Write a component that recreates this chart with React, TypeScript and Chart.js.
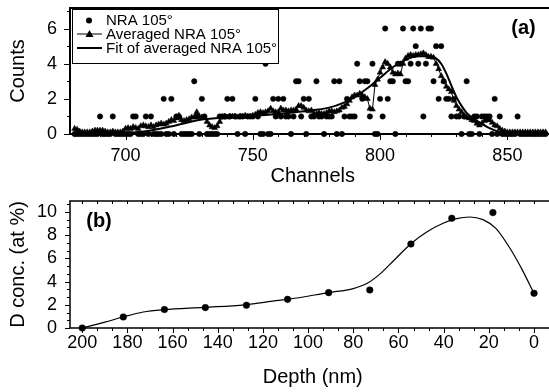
import React, { useEffect, useRef } from 'react';
import { Chart, registerables } from 'chart.js';

Chart.register(...registerables);

const FONT = '"Liberation Sans", Arial, Helvetica, sans-serif';

// ---------- Panel (a): NRA spectrum ----------
const CHANNEL_START = 680;
const rawCounts = [
  0, 0, 0, 0, 0, 0, 0, 0, 0, 0,
  1, 0, 0, 0, 0, 1, 0, 0, 0, 0,
  0, 0, 0, 1, 1, 0, 0, 0, 1, 0,
  1, 0, 0, 0, 0, 2, 0, 0, 2, 0,
  1, 1, 0, 0, 0, 0, 0, 3, 1, 0,
  2, 1, 0, 0, 0, 0, 0, 1, 1, 1,
  2, 1, 2, 1, 0, 1, 1, 0, 1, 1,
  1, 2, 1, 0, 0, 4, 0, 0, 2, 1,
  2, 1, 2, 1, 1, 0, 1, 3, 3, 1,
  2, 0, 2, 1, 1, 3, 1, 1, 0, 1,
  1, 1, 3, 0, 3, 0, 1, 2, 1, 1,
  1, 4, 3, 2, 3, 3, 1, 4, 0, 0,
  2, 1, 6, 2, 3, 3, 0, 4, 4, 6,
  3, 3, 4, 6, 5, 4, 6, 1, 4, 6,
  6, 3, 5, 2, 5, 3, 2, 2, 1, 2,
  1, 1, 0, 1, 3, 0, 0, 1, 1, 0,
  1, 1, 1, 1, 0, 2, 0, 1, 0, 0,
  0, 0, 0, 0, 1, 0, 0, 0, 0, 0,
  0, 0, 0, 0, 0, 0,
];
const averagedCounts = [
  0.3, 0.25, 0.15, 0.1, 0.1, 0.1, 0.1, 0.15, 0.2, 0.2,
  0.2, 0.2, 0.15, 0.1, 0.1, 0.15, 0.1, 0.1, 0.1, 0.15,
  0.3, 0.35, 0.3, 0.4, 0.35, 0.3, 0.45, 0.5, 0.45, 0.4,
  0.5, 0.4, 0.5, 0.55, 0.6, 0.55, 0.6, 0.7, 0.8, 0.75,
  0.9, 1.05, 0.8, 0.75, 0.8, 0.85, 0.95, 0.95, 1.25, 1.0,
  0.95, 0.95, 0.7, 0.5, 0.4, 0.35, 0.45, 0.7, 0.95, 1.0,
  0.95, 1.0, 1.0, 1.0, 0.95, 1.0, 1.0, 1.05, 1.0, 1.0,
  1.05, 1.1, 1.2, 1.25, 1.2, 1.25, 1.3, 1.45, 1.3, 1.25,
  1.25, 1.45, 1.35, 1.35, 1.3, 1.35, 1.35, 1.4, 1.6, 1.6,
  1.5, 1.35, 1.3, 1.35, 1.15, 1.15, 1.2, 1.15, 1.15, 1.2,
  1.3, 1.3, 1.25, 1.3, 1.35, 1.5, 1.55, 1.7, 1.9, 2.1,
  2.2, 2.2, 2.3, 2.2, 2.1, 2.0, 1.45, 1.4, 2.8, 3.1,
  3.5, 3.8, 4.1, 4.0, 3.8, 3.5, 3.4, 3.45, 3.4, 4.0,
  4.3, 4.45, 4.5, 4.45, 4.5, 4.5, 4.55, 4.6, 4.5, 4.4,
  4.4, 4.35, 4.0, 3.7, 3.3, 3.0, 2.7, 2.55, 2.4, 1.9,
  1.6, 1.4, 1.25, 1.05, 0.95, 0.9, 0.8, 0.75, 0.6, 0.5,
  0.6, 0.75, 0.8, 0.8, 0.65, 0.5, 0.45, 0.3, 0.2, 0.15,
  0.1, 0.1, 0.1, 0.1, 0.1, 0.1, 0.1, 0.1, 0.1, 0.1,
  0.1, 0.1, 0.1, 0.1, 0.1, 0.1,
];
const fitChannels = [680, 690, 700, 710, 720, 730, 740, 755, 770, 780, 786, 790, 795, 800, 805, 809, 815, 819, 822, 824, 826, 828, 830, 832, 834, 837, 840, 843, 847, 850, 866];
const fitCounts = [0, 0, 0.05, 0.2, 0.5, 0.82, 0.95, 1.08, 1.3, 1.5, 1.8, 2.1, 2.6, 3.2, 3.8, 4.15, 4.42, 4.42, 4.3, 4.0, 3.45, 2.75, 2.1, 1.6, 1.2, 0.85, 0.58, 0.33, 0.1, 0.02, 0];
const channelTicks = [700, 750, 800, 850];
const countTicks = [0, 2, 4, 6];

// ---------- Panel (b): depth profile ----------
const depthValues = [200, 181.8, 163.6, 145.5, 127.3, 109.1, 90.9, 72.7, 54.5, 36.4, 18.2, 0];
const concValues = [0, 0.95, 1.59, 1.76, 1.96, 2.47, 3.05, 3.28, 7.24, 9.46, 9.95, 2.99];
const fitDepths = [200, 190, 182, 173, 164, 146, 128, 113, 109, 91, 80, 74, 68, 62, 54.5, 47.5, 40, 34.3, 28.5, 22.6, 16.8, 11, 5.1, 0];
const fitConc = [0, 0.5, 0.95, 1.38, 1.58, 1.78, 2.0, 2.39, 2.47, 3.05, 3.4, 3.83, 4.69, 5.84, 7.27, 8.28, 9.05, 9.43, 9.57, 9.34, 8.57, 6.98, 4.97, 2.97];
const depthTicks = [200, 180, 160, 140, 120, 100, 80, 60, 40, 20, 0];
const concTicks = [0, 2, 4, 6, 8, 10];

type FrameOpts = {
  id: string;
  lw: number;
  xMajor: number;
  xMinor: number;
  yMajor: number;
  yMinor: number;
  majorLen: number;
  minorLen: number;
  topTicks: boolean;
  label: string;
  labelX: number;
  labelY: number;
  legend: boolean;
};

function isMultiple(v: number, step: number) {
  const r = v / step;
  return Math.abs(r - Math.round(r)) < 1e-6;
}

function drawLegend(ctx: CanvasRenderingContext2D) {
  ctx.save();
  ctx.fillStyle = '#fff';
  ctx.fillRect(72, 9.5, 206, 54);
  ctx.strokeStyle = '#000';
  ctx.lineWidth = 1;
  ctx.strokeRect(72.5, 9.5, 206, 54);
  ctx.fillStyle = '#000';
  ctx.beginPath();
  ctx.arc(89, 20.5, 3, 0, Math.PI * 2);
  ctx.fill();
  ctx.beginPath();
  ctx.lineWidth = 1;
  ctx.moveTo(77, 34);
  ctx.lineTo(102, 34);
  ctx.stroke();
  ctx.beginPath();
  ctx.moveTo(89.5, 30);
  ctx.lineTo(93.5, 37);
  ctx.lineTo(85.5, 37);
  ctx.closePath();
  ctx.fill();
  ctx.beginPath();
  ctx.lineWidth = 2;
  ctx.moveTo(77, 48);
  ctx.lineTo(102, 48);
  ctx.stroke();
  ctx.font = `15px ${FONT}`;
  ctx.textBaseline = 'middle';
  ctx.textAlign = 'left';
  ctx.fillText('NRA 105°', 106, 21);
  ctx.fillText('Averaged NRA 105°', 106, 34.5);
  ctx.fillText('Fit of averaged NRA 105°', 106, 48.5);
  ctx.restore();
}

function framePlugin(o: FrameOpts) {
  return {
    id: o.id,
    afterDatasetsDraw(chart: any) {
      if (o.legend) drawLegend(chart.ctx);
    },
    afterDraw(chart: any) {
      const ctx: CanvasRenderingContext2D = chart.ctx;
      const { left, right, top, bottom } = chart.chartArea;
      const xs = chart.scales.x;
      const ys = chart.scales.y;
      ctx.save();
      ctx.strokeStyle = '#000';
      ctx.lineWidth = o.lw;
      ctx.beginPath();
      ctx.moveTo(left - o.lw / 2, top);
      ctx.lineTo(right, top);
      ctx.moveTo(left, top);
      ctx.lineTo(left, bottom + o.lw / 2);
      ctx.moveTo(left - o.lw / 2, bottom);
      ctx.lineTo(right, bottom);
      ctx.stroke();

      ctx.lineWidth = 1;
      ctx.beginPath();
      const xlo = Math.min(xs.min, xs.max);
      const xhi = Math.max(xs.min, xs.max);
      for (let k = Math.ceil(xlo / o.xMinor); k * o.xMinor <= xhi; k++) {
        const v = k * o.xMinor;
        const px = Math.round(xs.getPixelForValue(v)) + 0.5;
        const len = isMultiple(v, o.xMajor) ? o.majorLen : o.minorLen;
        ctx.moveTo(px, bottom);
        ctx.lineTo(px, bottom + len);
        if (o.topTicks) {
          ctx.moveTo(px, top);
          ctx.lineTo(px, top + 3);
        }
      }
      for (let k = Math.ceil(ys.min / o.yMinor); k * o.yMinor <= ys.max; k++) {
        const v = k * o.yMinor;
        const py = Math.round(ys.getPixelForValue(v)) + 0.5;
        const len = isMultiple(v, o.yMajor) ? o.majorLen : o.minorLen;
        ctx.moveTo(left, py);
        ctx.lineTo(left - len, py);
      }
      ctx.stroke();

      ctx.fillStyle = '#000';
      ctx.font = `bold 20px ${FONT}`;
      ctx.textAlign = 'center';
      ctx.textBaseline = 'middle';
      ctx.fillText(o.label, o.labelX, o.labelY);
      ctx.restore();
    },
  };
}

function tickFont(size: number) {
  return { family: FONT, size };
}

function fixX(height: number) {
  return (s: any) => {
    s.height = height;
    s.paddingLeft = 0;
    s.paddingRight = 0;
    s.paddingTop = 0;
    s.paddingBottom = 0;
  };
}

function fixY(width: number) {
  return (s: any) => {
    s.width = width;
    s.paddingLeft = 0;
    s.paddingRight = 0;
    s.paddingTop = 0;
    s.paddingBottom = 0;
  };
}

function topConfig(): any {
  const raw = rawCounts.map((v, i) => ({ x: CHANNEL_START + i, y: v }));
  const avg = averagedCounts.map((v, i) => ({ x: CHANNEL_START + i, y: v }));
  const fit = fitChannels.map((c, i) => ({ x: c, y: fitCounts[i] }));
  return {
    type: 'line',
    data: {
      datasets: [
        {
          label: 'NRA 105°',
          data: raw,
          showLine: false,
          pointStyle: 'circle',
          pointRadius: 2.7,
          pointBorderWidth: 0.5,
          pointBackgroundColor: '#000',
          pointBorderColor: '#000',
          clip: false,
        },
        {
          label: 'Averaged NRA 105°',
          data: avg,
          showLine: true,
          borderColor: '#000',
          borderWidth: 1,
          pointStyle: 'triangle',
          pointRadius: 3.4,
          pointBorderWidth: 0.5,
          pointBackgroundColor: '#000',
          pointBorderColor: '#000',
          tension: 0,
          clip: false,
        },
        {
          label: 'Fit of averaged NRA 105°',
          data: fit,
          showLine: true,
          borderColor: '#000',
          borderWidth: 2,
          pointRadius: 0,
          cubicInterpolationMode: 'monotone',
          clip: false,
        },
      ],
    },
    options: {
      animation: false,
      responsive: false,
      devicePixelRatio: 1,
      layout: { padding: { top: 8, left: 0, right: 0, bottom: 0 } },
      plugins: { legend: { display: false }, tooltip: { enabled: false } },
      scales: {
        x: {
          type: 'linear',
          min: 678.2,
          max: 868.9,
          grid: { display: false, drawTicks: false },
          border: { display: false },
          afterBuildTicks: (s: any) => {
            s.ticks = channelTicks.map((v) => ({ value: v }));
          },
          afterFit: fixX(62),
          ticks: { font: tickFont(18), color: '#000', padding: 11, maxRotation: 0, autoSkip: false },
          title: { display: true, text: 'Channels', color: '#000', font: { family: FONT, size: 20 }, padding: { top: 0, bottom: 8 } },
        },
        y: {
          type: 'linear',
          min: 0,
          max: 7.17,
          grid: { display: false, drawTicks: false },
          border: { display: false },
          afterBuildTicks: (s: any) => {
            s.ticks = countTicks.map((v) => ({ value: v }));
          },
          afterFit: fixY(70),
          ticks: { font: tickFont(18), color: '#000', padding: 13, autoSkip: false },
          title: { display: true, text: 'Counts', color: '#000', font: { family: FONT, size: 20 }, padding: { top: 6, bottom: 0 } },
        },
      },
    },
    plugins: [
      framePlugin({
        id: 'frameA',
        lw: 2,
        xMajor: 50,
        xMinor: 10,
        yMajor: 2,
        yMinor: 1,
        majorLen: 6,
        minorLen: 3,
        topTicks: false,
        label: '(a)',
        labelX: 523.5,
        labelY: 28,
        legend: true,
      }),
    ],
  };
}

function bottomConfig(): any {
  const pts = depthValues.map((d, i) => ({ x: d, y: concValues[i] }));
  const fit = fitDepths.map((d, i) => ({ x: d, y: fitConc[i] }));
  return {
    type: 'line',
    data: {
      datasets: [
        {
          label: 'D concentration',
          data: pts,
          showLine: false,
          pointStyle: 'circle',
          pointRadius: 3.3,
          pointBorderWidth: 0.5,
          pointBackgroundColor: '#000',
          pointBorderColor: '#000',
          clip: false,
        },
        {
          label: 'Fit',
          data: fit,
          showLine: true,
          borderColor: '#000',
          borderWidth: 1.2,
          pointRadius: 0,
          cubicInterpolationMode: 'monotone',
          clip: false,
        },
      ],
    },
    options: {
      animation: false,
      responsive: false,
      devicePixelRatio: 1,
      layout: { padding: { top: 5, left: 0, right: 0, bottom: 0 } },
      plugins: { legend: { display: false }, tooltip: { enabled: false } },
      scales: {
        x: {
          type: 'linear',
          reverse: true,
          min: -9.5,
          max: 205.4,
          grid: { display: false, drawTicks: false },
          border: { display: false },
          afterBuildTicks: (s: any) => {
            s.ticks = depthTicks.map((v) => ({ value: v }));
          },
          afterFit: fixX(64),
          ticks: { font: tickFont(18), color: '#000', padding: 4, maxRotation: 0, autoSkip: false },
          title: { display: true, text: 'Depth (nm)', color: '#000', font: { family: FONT, size: 20 }, padding: { top: 0, bottom: 3 } },
        },
        y: {
          type: 'linear',
          min: 0,
          max: 10.95,
          grid: { display: false, drawTicks: false },
          border: { display: false },
          afterBuildTicks: (s: any) => {
            s.ticks = concTicks.map((v) => ({ value: v }));
          },
          afterFit: fixY(70),
          ticks: { font: tickFont(18), color: '#000', padding: 13, autoSkip: false },
          title: { display: true, text: 'D conc. (at %)', color: '#000', font: { family: FONT, size: 20 }, padding: { top: 6, bottom: 0 } },
        },
      },
    },
    plugins: [
      framePlugin({
        id: 'frameB',
        lw: 1.5,
        xMajor: 20,
        xMinor: 20 / 3,
        yMajor: 2,
        yMinor: 2 / 3,
        majorLen: 5,
        minorLen: 3,
        topTicks: true,
        label: '(b)',
        labelX: 99,
        labelY: 25.5,
        legend: false,
      }),
    ],
  };
}

export default function App() {
  const topRef = useRef<HTMLCanvasElement>(null);
  const botRef = useRef<HTMLCanvasElement>(null);

  useEffect(() => {
    const a = new Chart(topRef.current as HTMLCanvasElement, topConfig());
    const b = new Chart(botRef.current as HTMLCanvasElement, bottomConfig());
    return () => {
      a.destroy();
      b.destroy();
    };
  }, []);

  return (
    <div
      style={{
        position: 'absolute',
        left: 0,
        top: 0,
        width: 549,
        height: 392,
        overflow: 'hidden',
        background: '#fff',
      }}
    >
      <canvas
        ref={topRef}
        width={560}
        height={196}
        style={{ position: 'absolute', left: 0, top: 0, width: 560, height: 196 }}
      />
      <canvas
        ref={botRef}
        width={560}
        height={196}
        style={{ position: 'absolute', left: 0, top: 196, width: 560, height: 196 }}
      />
    </div>
  );
}
